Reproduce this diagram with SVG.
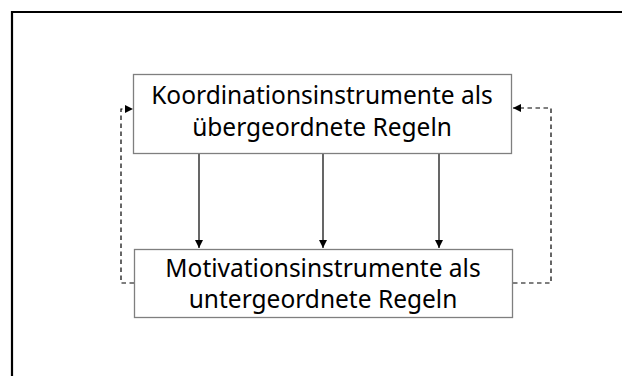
<svg xmlns="http://www.w3.org/2000/svg" width="622" height="376" viewBox="0 0 622 376">
  <style>
    .box { fill: #ffffff; stroke: #7f7f7f; stroke-width: 1.3; }
    .label { font-family: "Noto Sans", "Open Sans", sans-serif; font-size: 24.5px; fill: #000000; text-anchor: middle; }
    .solid { fill: none; stroke: #000000; stroke-width: 1.2; }
    .dash { fill: none; stroke: #000000; stroke-width: 1.2; stroke-dasharray: 4.5 3.5; }
  </style>
  <defs>
    <marker id="head" viewBox="0 0 10 10" refX="10" refY="5" markerWidth="8" markerHeight="8" markerUnits="userSpaceOnUse" orient="auto">
      <path d="M0,0 L10,5 L0,10 z" fill="#000000"/>
    </marker>
  </defs>
  <rect width="622" height="376" fill="#ffffff"/>
  <!-- outer frame, running off the right and bottom edges -->
  <path d="M12,380 L12,12 L630,12" fill="none" stroke="#000000" stroke-width="2.2"/>

  <g id="connectors">
    <line class="solid" x1="199" y1="153" x2="199" y2="248" marker-end="url(#head)"/>
    <line class="solid" x1="323" y1="153" x2="323" y2="248" marker-end="url(#head)"/>
    <line class="solid" x1="439" y1="153" x2="439" y2="248" marker-end="url(#head)"/>
    <path class="dash" d="M134,283 L121,283 L121,109 L133,109" marker-end="url(#head)"/>
    <path class="dash" d="M513,283 L551,283 L551,108 L513,108" marker-end="url(#head)"/>
  </g>

  <g id="coordination">
    <rect class="box" x="133.5" y="74.5" width="378" height="79"/>
    <text class="label" x="322" y="104">Koordinationsinstrumente als</text>
    <text class="label" x="322" y="136">übergeordnete Regeln</text>
  </g>

  <g id="motivation">
    <rect class="box" x="134.5" y="249.5" width="378" height="68"/>
    <text class="label" x="323" y="277">Motivationsinstrumente als</text>
    <text class="label" x="323" y="308">untergeordnete Regeln</text>
  </g>
</svg>
